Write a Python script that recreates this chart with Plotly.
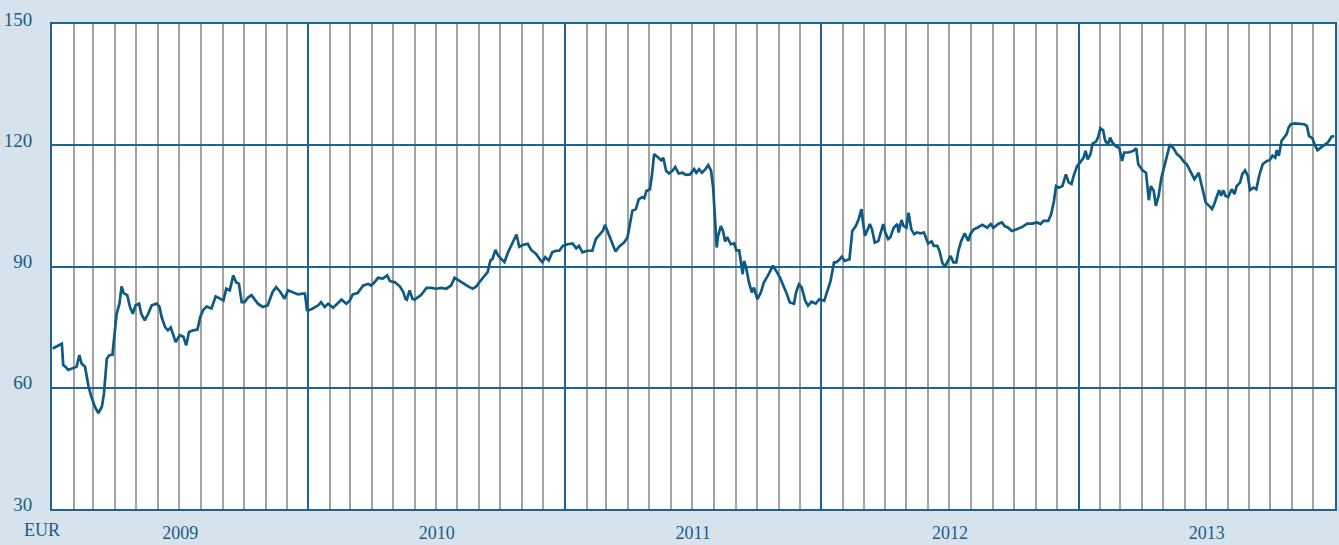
import pandas as pd
import plotly.graph_objects as go

# Days since 2009-01-01 and price in EUR
days_2009 = [1, 7, 14, 16, 19, 23, 30, 35, 39, 42, 47, 52, 56, 61, 66, 71, 74, 78, 82, 86,
             90, 92, 96, 99, 102, 107, 111, 115, 119, 124, 127, 132, 137, 142, 149, 153, 156,
             161, 165, 169, 172, 176, 182, 187, 191, 195, 201, 207, 211, 215, 220, 227, 233,
             239, 244, 248, 253, 258, 262, 266, 270, 274, 279, 284, 289, 293, 300, 307, 314,
             319, 325, 331, 336, 341, 345, 350, 357]
vals_2009 = [69.7, 70.3, 70.9, 65.6, 65.2, 64.4, 64.8, 65.2, 68.1, 66.0, 65.2, 60.3, 57.8,
             55.3, 53.7, 55.3, 58.6, 67.2, 68.1, 68.1, 75.0, 78.3, 80.8, 85.1, 83.4, 82.9,
             80.0, 78.3, 80.4, 80.8, 78.3, 76.7, 78.3, 80.4, 80.8, 80.0, 77.5, 75.0, 74.2,
             74.9, 73.4, 71.3, 73.0, 72.6, 70.5, 73.8, 74.2, 74.4, 77.5, 79.2, 80.1, 79.6,
             82.6, 82.0, 81.6, 84.5, 84.1, 87.8, 86.1, 85.7, 81.2, 81.2, 82.3, 82.9, 81.6,
             80.8, 80.0, 80.4, 83.7, 84.9, 83.7, 82.0, 84.1, 83.7, 83.4, 83.1, 83.3]

days_2010 = [360, 363, 366, 371, 379, 383, 388, 393, 400, 406, 412, 419, 424, 428, 435, 443,
             450, 454, 459, 464, 471, 477, 481, 488, 495, 500, 503, 505, 509, 513, 516, 521,
             525, 533, 540, 547, 554, 561, 568, 573, 580, 587, 594, 599, 604, 608, 615, 620,
             624, 627, 631, 635, 639, 644, 649, 653, 658, 661, 665, 671, 677, 682, 689, 695,
             698, 702, 707, 712, 717]
vals_2010 = [83.3, 79.2, 79.2, 79.6, 80.4, 81.2, 80.0, 80.8, 79.8, 80.8, 81.8, 80.8, 81.6,
             83.1, 83.4, 85.3, 85.7, 85.3, 86.1, 87.2, 87.0, 87.8, 86.4, 86.1, 85.1, 83.7,
             82.0, 81.8, 84.1, 82.0, 81.8, 82.4, 82.9, 84.7, 84.7, 84.5, 84.7, 84.5, 85.3,
             87.2, 86.4, 85.7, 84.9, 84.5, 85.1, 86.1, 87.5, 88.6, 91.5, 91.9, 94.1, 92.7,
             91.9, 91.1, 93.5, 94.8, 96.8, 97.9, 94.9, 95.4, 95.6, 94.1, 93.1, 91.6, 91.1,
             92.3, 91.5, 93.5, 93.9]

days_2011 = [722, 727, 734, 741, 746, 750, 755, 762, 769, 774, 779, 784, 787, 792, 797, 802,
             807, 814, 819, 822, 826, 831, 835, 840, 843, 846, 851, 854, 857, 862, 867, 870,
             874, 878, 883, 887, 892, 897, 902, 908, 914, 917, 921, 925, 930, 934, 938, 941,
             943, 946, 948, 952, 955, 958, 961, 966, 971, 974, 978, 980, 983, 985, 988, 992,
             996, 999, 1004, 1009, 1013, 1020, 1026, 1030, 1036, 1040, 1045, 1050, 1056,
             1059, 1063, 1067, 1072, 1076, 1081, 1087, 1092, 1099, 1103]
vals_2011 = [93.9, 95.1, 95.5, 95.7, 94.5, 95.1, 93.5, 93.9, 93.9, 96.8, 97.8, 98.8, 100.3,
             98.0, 95.9, 93.7, 94.9, 95.9, 97.2, 100.5, 103.8, 104.2, 106.6, 107.2, 106.9,
             108.7, 109.1, 112.8, 117.8, 117.1, 116.3, 116.9, 113.7, 113.0, 113.7, 114.6,
             113.0, 113.2, 112.7, 112.8, 114.1, 113.2, 114.1, 113.2, 114.1, 115.1, 113.7,
             109.5, 103.8, 94.7, 97.6, 100.0, 98.8, 96.2, 97.3, 95.5, 95.7, 94.0, 94.0, 91.0,
             88.1, 91.4, 89.7, 86.0, 83.6, 84.8, 81.9, 83.6, 86.0, 88.1, 90.2, 89.1, 87.3,
             85.6, 83.6, 81.1, 80.8, 83.6, 85.6, 84.8, 81.5, 80.3, 81.3, 80.8, 81.9, 81.5,
             83.6]

days_2012 = [1108, 1113, 1116, 1120, 1124, 1128, 1135, 1139, 1144, 1148, 1152, 1154, 1157,
             1160, 1164, 1167, 1171, 1176, 1179, 1183, 1186, 1190, 1193, 1198, 1203, 1205,
             1209, 1212, 1216, 1219, 1223, 1227, 1231, 1236, 1241, 1243, 1247, 1252, 1255,
             1260, 1263, 1267, 1271, 1274, 1279, 1283, 1287, 1290, 1294, 1299, 1304, 1307,
             1312, 1317, 1324, 1331, 1336, 1340, 1347, 1352, 1356, 1361, 1366, 1373, 1381,
             1388, 1395, 1402, 1407, 1411, 1418, 1422, 1426, 1429, 1433, 1438, 1443]
vals_2012 = [86.4, 91.0, 91.0, 91.6, 92.4, 91.4, 91.8, 98.8, 100.0, 101.7, 104.2, 101.3,
             97.6, 98.8, 100.5, 99.2, 95.9, 96.3, 98.4, 100.5, 98.4, 96.8, 97.2, 99.6, 100.5,
             98.4, 101.5, 100.0, 99.6, 103.3, 99.2, 98.0, 98.4, 98.2, 98.4, 97.6, 95.7, 96.2,
             95.1, 95.1, 93.9, 91.0, 89.9, 91.0, 92.6, 91.0, 91.0, 93.9, 96.3, 98.2, 96.3,
             98.0, 99.2, 99.6, 100.3, 99.6, 100.5, 99.6, 100.6, 100.9, 100.0, 99.6, 98.8,
             99.2, 99.8, 100.6, 100.6, 100.9, 100.5, 101.3, 101.3, 102.9, 106.2, 109.9,
             109.5, 109.9, 112.8]

days_2013 = [1447, 1451, 1454, 1459, 1463, 1468, 1471, 1474, 1478, 1481, 1486, 1489, 1492,
             1496, 1499, 1503, 1506, 1509, 1514, 1519, 1523, 1526, 1532, 1539, 1543, 1546,
             1552, 1557, 1559, 1561, 1564, 1568, 1571, 1575, 1579, 1584, 1588, 1591, 1596,
             1601, 1606, 1610, 1615, 1620, 1626, 1632, 1635, 1639, 1642, 1647, 1651, 1654,
             1658, 1661, 1664, 1667, 1670, 1674, 1679, 1683, 1686, 1691, 1694, 1698, 1702,
             1705, 1710, 1714, 1718, 1723, 1729, 1733, 1737, 1741, 1743, 1746, 1750, 1754,
             1757, 1760, 1763, 1769, 1776, 1782, 1786, 1789, 1794, 1797, 1801, 1806, 1812,
             1816, 1821, 1825]
vals_2013 = [110.8, 110.4, 112.4, 114.9, 115.7, 116.9, 118.6, 116.5, 117.8, 120.4, 120.9,
             122.1, 124.2, 123.7, 121.1, 120.2, 121.9, 120.7, 119.8, 119.3, 116.1, 118.2,
             118.2, 118.6, 119.3, 115.3, 113.8, 113.2, 109.9, 106.4, 109.9, 108.7, 105.0,
             107.5, 112.0, 115.3, 117.8, 120.2, 119.3, 117.8, 117.1, 116.1, 115.3, 113.7,
             111.6, 113.2, 110.8, 107.5, 105.8, 105.0, 104.2, 105.4, 107.2, 108.9, 107.5,
             108.9, 107.5, 107.2, 109.1, 107.9, 109.9, 110.8, 112.8, 113.8, 112.4, 108.9,
             109.5, 109.1, 112.4, 115.3, 116.1, 116.3, 117.4, 116.9, 118.8, 117.4, 121.1,
             122.1, 122.7, 124.4, 125.2, 125.4, 125.2, 125.2, 124.8, 122.3, 121.7, 120.2,
             118.8, 119.4, 120.2, 120.7, 122.1, 122.3]

y_ticks = [30, 60, 90, 120, 150]
unit_label = "EUR"

days = days_2009 + days_2010 + days_2011 + days_2012 + days_2013
vals = vals_2009 + vals_2010 + vals_2011 + vals_2012 + vals_2013
dates = pd.Timestamp("2009-01-01") + pd.to_timedelta(days, unit="D")

BLUE = "#1d6590"
TXT = "#1b5c88"
FONT = "Liberation Serif"

fig = go.Figure()
fig.add_trace(go.Scatter(x=dates, y=vals, mode="lines",
                         line=dict(color="#0d5a82", width=2.7), showlegend=False,
                         hoverinfo="skip"))

fig.update_layout(
    width=1339, height=545,
    margin=dict(l=52, r=2, t=24, b=36),
    paper_bgcolor="#d6e2ec",
    plot_bgcolor="white",
    font=dict(family=FONT, size=18, color=TXT),
    xaxis=dict(
        type="date",
        range=["2009-01-01", "2014-01-01"],
        tick0="2009-01-01", dtick="M12",
        ticklabelmode="period", tickformat="%Y",
        ticks="", showgrid=True, gridcolor=BLUE, gridwidth=1.5,
        minor=dict(dtick="M1", tick0="2009-01-01", showgrid=True,
                   gridcolor="#a3a3a3", gridwidth=1.5, ticks=""),
        showline=True, linecolor=BLUE, linewidth=2, mirror=True,
        zeroline=False, tickfont=dict(family=FONT, size=18, color=TXT),
        ticklabelstandoff=6,
    ),
    yaxis=dict(
        range=[30, 150], tickvals=y_ticks, ticks="",
        showgrid=True, gridcolor=BLUE, gridwidth=1.5,
        showline=True, linecolor=BLUE, linewidth=2, mirror=True,
        zeroline=False, tickfont=dict(family=FONT, size=19, color=TXT),
        ticklabelshift=-5, ticklabelstandoff=14,
    ),
    annotations=[dict(text=unit_label, xref="paper", yref="paper",
                      x=-0.0078, y=-0.043, xanchor="center", yanchor="middle",
                      showarrow=False, font=dict(family=FONT, size=18, color=TXT))],
)

fig.write_html("out.html", config={"displayModeBar": False},
               post_script="document.body.style.margin='0';")
